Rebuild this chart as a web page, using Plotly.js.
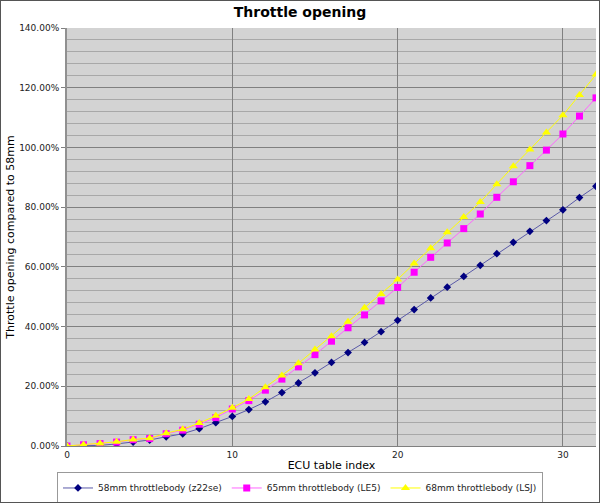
<!DOCTYPE html>
<html>
<head>
<meta charset="utf-8">
<script src="https://cdn.plot.ly/plotly-3.0.1.min.js"></script>
<style>
  body { margin: 0; background: #fff; }
  #graph { width: 598px; height: 501px; border: 1px solid #555; }
</style>
</head>
<body>
<div id="graph"></div>
<script>
// Throttle opening vs ECU table index, three throttle bodies.

const tableIndex = Array.from({ length: 33 }, (_, i) => i);

const tb58 = [0, 0.1, 0.2, 0.7, 1.3, 2.0, 3.1, 4.1, 5.8, 7.8,
  9.9, 12.2, 14.8, 17.9, 21.1, 24.5, 28.0, 31.3, 34.7, 38.3,
  42.1, 45.7, 49.6, 53.2, 56.8, 60.5, 64.4, 68.2, 71.9, 75.5,
  79.1, 83.2, 87.0];

const tb65 = [0, 0.4, 0.8, 1.3, 2.1, 2.5, 4.1, 5.3, 7.3, 9.5,
  12.4, 15.2, 18.7, 22.4, 26.5, 30.6, 35.1, 39.6, 43.9, 48.6,
  53.1, 58.2, 63.2, 68.0, 72.8, 77.7, 83.3, 88.5, 93.9, 99.1,
  104.5, 110.5, 116.6];

const tb68 = [0, 0.4, 0.8, 1.4, 2.2, 2.6, 4.3, 5.6, 7.7, 10.1,
  12.8, 15.7, 19.7, 23.6, 27.7, 32.3, 36.8, 41.6, 46.3, 50.9,
  55.8, 61.1, 66.2, 71.6, 76.7, 81.7, 87.7, 93.7, 99.3, 105.0,
  110.8, 117.6, 124.4];

const seriesNames = [
  "58mm throttlebody (z22se)",
  "65mm throttlebody (LE5)",
  "68mm throttlebody (LSJ)",
];

const trace1 = {
  x: tableIndex,
  y: tb58,
  name: seriesNames[0],
  type: "scatter",
  mode: "lines+markers",
  line: { color: "#5a5aa8", width: 1 },
  marker: { color: "#000080", symbol: "diamond", size: 6 },
};

const trace2 = {
  x: tableIndex,
  y: tb65,
  name: seriesNames[1],
  type: "scatter",
  mode: "lines+markers",
  line: { color: "#ff66ff", width: 1 },
  marker: { color: "#ff00ff", symbol: "square", size: 7 },
};

const trace3 = {
  x: tableIndex,
  y: tb68,
  name: seriesNames[2],
  type: "scatter",
  mode: "lines+markers",
  line: { color: "#ffff00", width: 1 },
  marker: { color: "#ffff00", symbol: "triangle-up", size: 8 },
};

const layout = {
  width: 598,
  height: 501,
  font: { family: "DejaVu Sans", size: 10, color: "#222" },
  paper_bgcolor: "#ffffff",
  plot_bgcolor: "#d3d3d3",
  title: {
    text: "<b>Throttle opening</b>",
    font: { size: 14, color: "#000" },
    xref: "container",
    x: 0.5,
    xanchor: "center",
    y: 0.977,
    yanchor: "middle",
  },
  xaxis: {
    title: { text: "ECU table index", font: { size: 11, color: "#000" } },
    range: [0, 32],
    dtick: 10,
    showgrid: true,
    gridcolor: "#808080",
    gridwidth: 1,
    zeroline: false,
    showline: true,
    linecolor: "#808080",
    ticks: "",
    tickfont: { size: 9 },
  },
  yaxis: {
    title: { text: "Throttle opening compared to 58mm", font: { size: 11, color: "#000" } },
    range: [0, 140],
    dtick: 20,
    tickformat: ".2f",
    ticksuffix: "%",
    showgrid: true,
    gridcolor: "#808080",
    gridwidth: 1,
    minor: { dtick: 4, showgrid: true, gridcolor: "#a8a8a8", gridwidth: 1 },
    zeroline: false,
    showline: true,
    linecolor: "#909090",
    linewidth: 2,
    ticks: "outside",
    ticklen: 4,
    tickcolor: "#808080",
    tickfont: { size: 9 },
  },
  margin: { l: 66, r: 3, t: 27, b: 56 },
  showlegend: true,
  legend: {
    orientation: "h",
    xref: "container",
    yref: "container",
    x: 0.5,
    xanchor: "center",
    y: 0.028,
    yanchor: "middle",
    bordercolor: "#999",
    borderwidth: 1,
    font: { size: 9, color: "#222" },
  },
};

Plotly.newPlot("graph", [trace1, trace2, trace3], layout, { staticPlot: true });
</script>
</body>
</html>
